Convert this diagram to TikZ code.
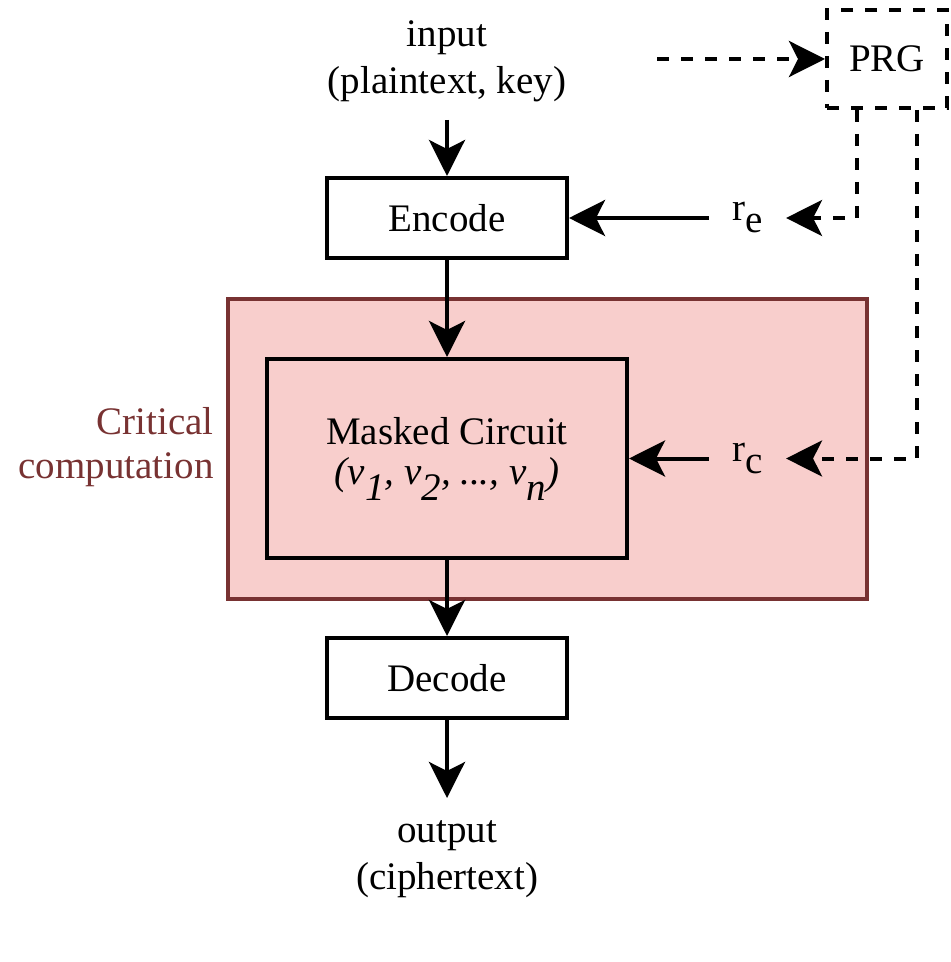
\documentclass[tikz,border=0pt]{standalone}
\usepackage{fontspec}
\setmainfont{Liberation Serif}
\usetikzlibrary{arrows.meta}
\definecolor{critfill}{HTML}{F8CECC}
\definecolor{critline}{HTML}{783232}
\newcommand{\lowsub}[2][6pt]{\raisebox{-#1}{#2}}

\begin{document}
\begin{tikzpicture}[x=0.5pt, y=-0.5pt,
	txt/.style={font=\fontsize{19.5pt}{23.5pt}\selectfont},
	box/.style={txt, shape=rectangle, draw=black, line width=2pt, inner sep=0pt, minimum width=120pt, minimum height=40pt},
	arr/.style={-{Stealth[length=18pt, width=18pt, inset=4.5pt]}, line width=2pt},
	dasharr/.style={arr, dash pattern=on 6pt off 6pt}]

	\useasboundingbox (0, 0) rectangle (950, 962);

	\node[txt, align=center, anchor=south, inner xsep=0pt, inner ysep=9pt] (input) at (447, 120) {input\\(plaintext, key)};
	\node[box] (encode) at (447, 218) {Encode};
	\node[shape=rectangle, draw=critline, fill=critfill, line width=1.6pt, minimum width=319.5pt, minimum height=150pt] (crit) at (547.5, 449) {};
	\node[box, minimum width=180pt, minimum height=99.5pt, align=center, font=\fontsize{19.5pt}{20pt}\selectfont] (masked) at (447, 458.5) {Masked Circuit\\\textit{(v\lowsub[8pt]{1}, v\lowsub[8pt]{2}, ..., v\lowsub[8pt]{n})}};
	\node[box] (decode) at (447, 678) {Decode};
	\node[txt, align=center, anchor=north, inner xsep=0pt, inner ysep=11pt] (output) at (447, 798) {output\\(ciphertext)};
	\node[txt, align=right, anchor=east, text=critline, inner sep=0pt, font=\fontsize{19.5pt}{22pt}\selectfont] (critlabel) at (214, 447) {Critical\\computation};
	\node[txt, inner xsep=11.5pt, inner ysep=0pt] (re) at (747.5, 218) {r\lowsub{e}};
	\node[txt, inner xsep=11.5pt, inner ysep=0pt] (rc) at (747.5, 458.5) {r\lowsub{c}};
	\node[box, dash pattern=on 6pt off 6pt, minimum width=60pt, minimum height=49pt] (prg) at (887, 59) {PRG};
	\coordinate (seed) at (657, 59);

	\path[arr] (input) edge (encode);
	\path[arr] (encode) edge (masked);
	\path[arr] (masked) edge (decode);
	\path[arr] (decode) edge (output);
	\path[arr] (re.west) edge (encode.east);
	\path[arr] (rc.west) edge (masked.east);
	\path[dasharr] (seed) edge (prg);
	\draw[dasharr] ([xshift=-15pt]prg.south) |- (re.east);
	\draw[dasharr] ([xshift=15pt]prg.south) |- (rc.east);

\end{tikzpicture}
\end{document}
